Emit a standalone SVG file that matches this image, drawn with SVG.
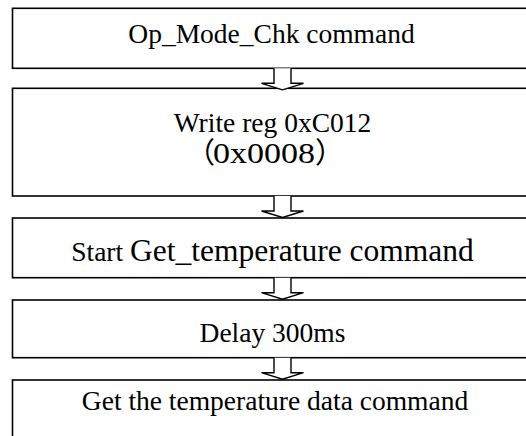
<svg xmlns="http://www.w3.org/2000/svg" width="526" height="436" viewBox="0 0 526 436">
<style>
.box{fill:#fff;stroke:#000;stroke-width:1.6}
.t{font-family:"Liberation Serif","Times New Roman",serif;font-size:27.5px;fill:#000;text-anchor:middle}
.big{font-size:31.5px}
.cjk{font-family:"Liberation Serif","Noto Sans CJK SC",serif;text-anchor:start;font-size:29px}
.arr{fill:#fff;stroke:#000;stroke-width:1.4;stroke-linejoin:miter}
</style>
<defs>
<path id="ar" d="M-8.5,0 L-8.5,15 L-21,15 L0,21.5 L21,15 L8.5,15 L8.5,0"/>
</defs>
<rect width="526" height="436" fill="#fff"/>
<g id="n1"><rect class="box" x="12.5" y="8.3" width="530" height="60"/><text class="t" x="271.5" y="42.5">Op_Mode_Chk command</text></g>
<g id="n2"><rect class="box" x="12.5" y="88.3" width="530" height="107.7"/><text class="t" x="272.5" y="132">Write reg 0xC012</text><text class="t cjk" y="163"><tspan x="186">（</tspan><tspan x="213" textLength="102" lengthAdjust="spacingAndGlyphs">0x0008</tspan><tspan x="315">）</tspan></text></g>
<g id="n3"><rect class="box" x="12.5" y="218" width="530" height="59.7"/><text class="t" x="272.5" y="260.5"><tspan>Start </tspan><tspan class="big">Get_temperature command</tspan></text></g>
<g id="n4"><rect class="box" x="12.5" y="300" width="530" height="57.7"/><text class="t" x="272.5" y="342">Delay 300ms</text></g>
<g id="n5"><rect class="box" x="12.5" y="380" width="530" height="80"/><text class="t" x="275" y="409.5">Get the temperature data command</text></g>
<g id="connectors">
<use href="#ar" class="arr" x="282.5" y="68.3"/>
<use href="#ar" class="arr" x="282.5" y="196"/>
<use href="#ar" class="arr" x="282.5" y="277.7"/>
<use href="#ar" class="arr" x="282.5" y="357.7"/>
</g>
</svg>
